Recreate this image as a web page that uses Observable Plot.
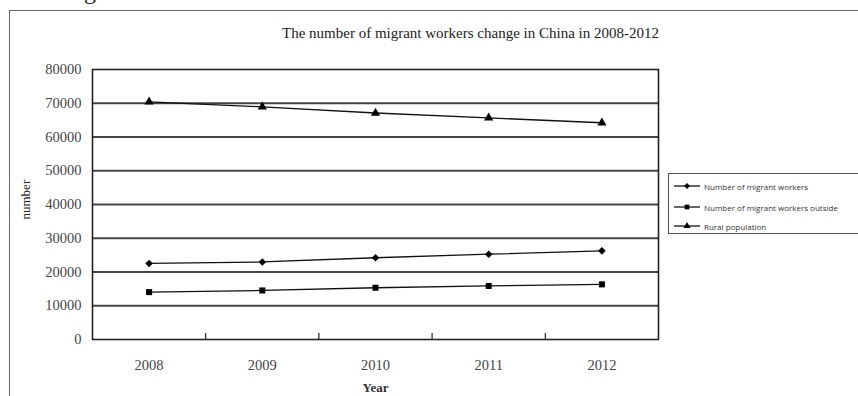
<!DOCTYPE html>
<html>
<head>
<meta charset="utf-8">
<script src="https://cdn.jsdelivr.net/npm/d3@7"></script>
<script src="https://cdn.jsdelivr.net/npm/@observablehq/plot@0.6"></script>
<style>
  html, body { margin: 0; padding: 0; background: #fff; overflow: hidden; }
  #wrap { position: relative; width: 858px; height: 396px; overflow: hidden; }
  #outer { position: absolute; left: 9px; top: 10px; width: 900px; height: 500px; border: 1px solid #666; box-sizing: border-box; }
  #fig { position: absolute; left: 64px; top: -22px; font: 24px "Liberation Serif", "DejaVu Serif", serif; color: #222; }
  #legend { position: absolute; left: 668px; top: 173px; width: 210px; height: 61px; border: 1px solid #555; box-sizing: border-box;
            font: 8px "Open Sans", "Noto Sans", sans-serif; color: #333; }
  .item { position: absolute; left: 5px; height: 10px; display: flex; align-items: center; white-space: nowrap; }
  .item svg { margin-right: 4px; }
  #chart { position: absolute; left: 0; top: 0; }
</style>
</head>
<body>
<div id="wrap">
  <div id="fig">Figure</div>
  <div id="outer"></div>
  <div id="chart"></div>
  <div id="legend"></div>
</div>
<script>
const years = [2008, 2009, 2010, 2011, 2012];
const migrantWorkers = [22542, 22978, 24223, 25278, 26261];
const migrantOutside = [14041, 14533, 15335, 15863, 16336];
const ruralPopulation = [70399, 68938, 67113, 65656, 64222];
const seriesNames = ["Number of migrant workers", "Number of migrant workers outside", "Rural population"];
const seriesSymbols = ["diamond2", "square", "triangle"];
const yTicks = [0, 10000, 20000, 30000, 40000, 50000, 60000, 70000, 80000];
const gridValues = [10000, 20000, 30000, 40000, 50000, 60000, 70000];
const xBoundaries = [2008.5, 2009.5, 2010.5, 2011.5];
const title = "The number of migrant workers change in China in 2008-2012";

const allSeries = [migrantWorkers, migrantOutside, ruralPopulation];
const data = [];
allSeries.forEach((vals, i) => years.forEach((yr, j) => data.push({year: yr, value: vals[j], series: seriesNames[i]})));

const serif = "'Liberation Serif', 'DejaVu Serif', serif";

const chart = Plot.plot({
  width: 858,
  height: 396,
  marginLeft: 92,
  marginRight: 200,
  marginTop: 69,
  marginBottom: 57,
  style: {fontFamily: serif, background: "transparent", overflow: "visible"},
  x: {type: "linear", domain: [2007.5, 2012.5], axis: null},
  y: {domain: [0, 80000], axis: null},
  symbol: {domain: seriesNames, range: seriesSymbols},
  marks: [
    Plot.ruleY(gridValues, {stroke: "#444", strokeWidth: 1.8}),
    Plot.frame({stroke: "#222", strokeWidth: 1.6}),
    Plot.axisX(xBoundaries, {tickSize: -6, tickFormat: () => "", label: null, stroke: "#222", strokeWidth: 1.2}),
    Plot.axisX(years, {tickSize: 0, tickPadding: 20, tickFormat: d => String(d), label: null, fontSize: 14.5, fill: "#444"}),
    Plot.axisY(yTicks, {tickSize: 0, tickPadding: 11, tickFormat: d => String(d), label: null, fontSize: 14.5, fill: "#444"}),
    Plot.line(data, {x: "year", y: "value", z: "series", stroke: "#111", strokeWidth: 1.3}),
    Plot.dot(data, {x: "year", y: "value", symbol: "series", fill: "#000", stroke: "none", r: 3.4}),
    Plot.text([title], {frameAnchor: "top", dx: 95, dy: -42, fontSize: 15, fill: "#222", fontFamily: serif}),
    Plot.text(["Year"], {frameAnchor: "bottom", dy: 52, fontSize: 13, fontWeight: "bold", fill: "#333", fontFamily: serif}),
    Plot.text(["number"], {frameAnchor: "left", dx: -67, dy: 15, rotate: -90, fontSize: 13, fill: "#222", fontFamily: serif})
  ]
});
document.getElementById("chart").appendChild(chart);

// Legend
const legend = document.getElementById("legend");
const symScale = chart.scale("symbol");
const itemTops = [7, 28, 47];
seriesNames.forEach((name, i) => {
  const div = document.createElement("div");
  div.className = "item";
  div.style.top = itemTops[i] + "px";
  const sym = d3.symbol(symScale.apply(name), 22)();
  div.innerHTML = `<svg width="26" height="10"><line x1="0" y1="5" x2="26" y2="5" stroke="#111" stroke-width="1.3"/><path d="${sym}" transform="translate(13,5)" fill="#000"/></svg><span>${name}</span>`;
  legend.appendChild(div);
});
</script>
</body>
</html>
